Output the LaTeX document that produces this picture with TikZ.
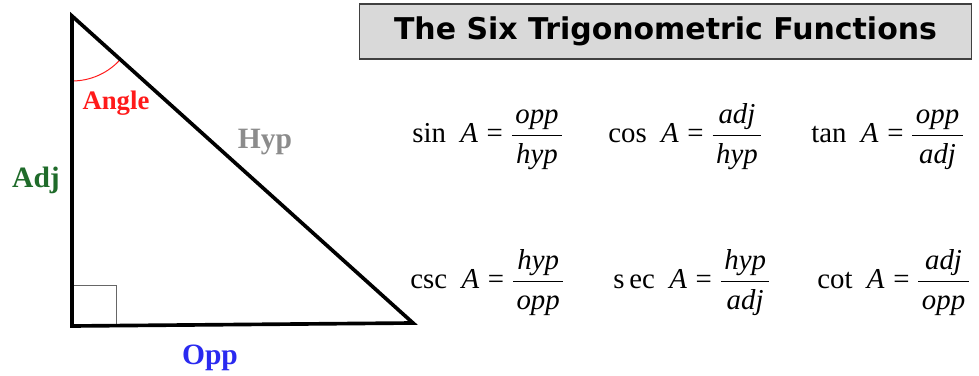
\documentclass[tikz,border=0pt]{standalone}
\usepackage{amsmath}
\usepackage{fontspec}
\setmainfont{Liberation Serif}
\newfontfamily\headfont{DejaVu Sans}
\usepackage{tikz}
\usetikzlibrary{positioning}
\definecolor{anglered}{HTML}{FF1A1A}
\definecolor{hypgray}{HTML}{8C8C8C}
\definecolor{adjgreen}{HTML}{1F6B2A}
\definecolor{oppblue}{HTML}{2A2AF0}
\definecolor{titlefill}{HTML}{D9D9D9}
% name A = num / den
\newcommand{\ratio}[3]{#1\hspace{0.5em}\textit{A}\hspace{0.3em}=\hspace{0.25em}%
  $\dfrac{\hspace{2.5pt}\textit{#2}\hspace{2.5pt}}{\hspace{2.5pt}\textit{#3}\hspace{2.5pt}}$}

\begin{document}
\begin{tikzpicture}[
    x=0.025cm, y=0.025cm,
    side/.style    = {line width=2.6pt, line join=miter},
    sidelbl/.style = {font=\fontsize{21}{24}\selectfont\bfseries, inner sep=0pt},
    trifunc/.style = {anchor=base west, inner sep=0pt,
                      font=\fontsize{20.5}{24}\selectfont},
    titlebox/.style = {
      rectangle, draw=black!75, line width=1.1pt, fill=titlefill,
      minimum width=15.3cm, minimum height=1.375cm,
      font=\headfont\fontsize{21.3}{24}\selectfont\bfseries
    }
  ]
  \useasboundingbox (0,0) rectangle (979,375);

  % Triangle
  \coordinate (apex) at (72,359);
  \coordinate (lbot) at (72,49);
  \coordinate (rbot) at (413,52);
  \draw[black!60, line width=0.6pt] (lbot) rectangle (116,90);
  \draw[anglered, line width=0.7pt] (apex) ++(0,-65)
        arc[start angle=-90, end angle=-42, radius=65];
  \draw[side] (apex) -- (rbot) -- (lbot) -- cycle;

  % Side labels
  \node[sidelbl, anglered, font=\fontsize{19}{22}\selectfont\bfseries]
        at (116,272) (anglelbl) {Angle};
  \node[sidelbl, hypgray]  at (265,233) (hyplbl) {Hyp};
  \node[sidelbl, adjgreen] at (36,195)  (adjlbl) {Adj};
  \node[sidelbl, oppblue]  at (210,17)  (opplbl) {Opp};

  % Title
  \node[titlebox] at (665.5,343.5) (title) {The Six Trigonometric Functions};

  % Row 1
  \node[trifunc] at (412,232) (fsin) {\ratio{sin}{opp}{hyp}};
  \node[trifunc] at (608,232) (fcos) {\ratio{cos}{adj}{hyp}};
  \node[trifunc] at (811,232) (ftan) {\ratio{tan}{opp}{adj}};

  % Row 2
  \node[trifunc] at (410,86) (fcsc) {\ratio{csc}{hyp}{opp}};
  \node[trifunc] at (613,86) (fsec) {\ratio{s\,ec}{hyp}{adj}};
  \node[trifunc] at (817,86) (fcot) {\ratio{cot}{adj}{opp}};
\end{tikzpicture}
\end{document}
